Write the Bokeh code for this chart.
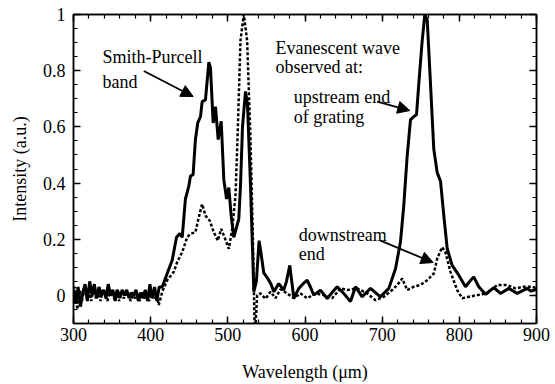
from bokeh.plotting import figure
from bokeh.models import Range1d, LinearAxis, FixedTicker, Arrow, NormalHead, CustomJSTickFormatter
from bokeh.core.properties import value
from bokeh.embed import file_html
from bokeh.resources import INLINE

FONT = "Times New Roman, Liberation Serif, serif"

# ---- data: upstream end of grating (solid) ----
up_x = [300, 303, 306, 309, 312, 315, 318, 321, 324, 327, 330, 333, 336, 339, 342, 345, 348,
        351, 354, 357, 360, 363, 366, 369, 372, 375, 378, 381, 384, 387, 390, 393, 396, 399,
        402, 405, 408, 411,
        415, 421.4, 427.9, 433.5, 437.8, 440.9, 445, 449.5, 451.6, 455, 458, 461, 464.6, 466.7,
        471, 475.4, 477.5, 481, 484, 487.5, 491.4, 494.8, 498.3, 501.3, 504.3, 507.7, 511,
        514.2, 516.4, 519, 522.9, 525.5, 529.4, 533.7, 537, 540.5, 543, 546.6, 551.8, 556,
        559.6, 566, 572.5, 576, 580.3, 585.5, 592, 597, 602.8, 607, 611.4, 620, 628.8, 635,
        641.7, 650.3, 659, 665.4, 674.1, 684.9, 697.8, 708.6, 717.3, 723.7, 728, 732.4, 736.7,
        741, 744.5, 747.5, 751.9, 755.3, 758.4, 762.6, 766.9, 771.3, 775.6, 779.9, 784.3,
        790.7, 799.3, 808, 812, 818.7, 825.2, 833.9, 844.7, 853.3, 864.1, 875, 888, 893, 900]
up_y = [0.02, -0.03, 0.03, -0.04, 0.01, 0.04, -0.02, 0.05, 0.0, 0.04, -0.01, 0.03, 0.0, 0.02,
        -0.01, 0.04, 0.0, 0.02, -0.02, 0.02, -0.01, 0.02, 0.0, 0.02, -0.01, 0.01, 0.0, 0.02,
        -0.02, 0.01, -0.01, 0.02, -0.02, 0.04, -0.01, 0.03, -0.02, 0.03,
        0.03, 0.078, 0.125, 0.207, 0.22, 0.207, 0.343, 0.39, 0.425, 0.43, 0.555, 0.614, 0.637,
        0.69, 0.696, 0.83, 0.81, 0.614, 0.672, 0.555, 0.62, 0.413, 0.343, 0.384, 0.284, 0.207,
        0.24, 0.272, 0.39, 0.6, 0.726, 0.68, 0.39, 0.013, 0.05, 0.195, 0.15, 0.08, 0.06, 0.04,
        0.013, 0.042, 0.019, 0.05, 0.107, -0.01, 0.025, 0.04, 0.054, 0.03, 0.001, 0.019,
        -0.011, 0.01, 0.031, 0.007, -0.022, 0.031, -0.005, 0.025, -0.005, 0.025, 0.095, 0.19,
        0.32, 0.496, 0.625, 0.637, 0.643, 0.755, 0.908, 1.0, 0.98, 0.755, 0.52, 0.437, 0.407,
        0.284, 0.166, 0.107, 0.072, 0.031, 0.045, 0.066, 0.031, 0.004, 0.028, 0.007, 0.025,
        0.007, 0.025, 0.015, 0.022]

# ---- data: downstream end (dotted) ----
dn_x = [300, 302, 305, 308, 311, 314, 317, 320, 323, 326, 329, 332, 335, 338, 341, 344, 347,
        350, 353, 356, 359, 362, 365, 368, 371, 374, 377, 380, 383, 386, 389, 392, 395, 398,
        401, 404, 407, 410.5,
        415, 421.4, 430, 434.4, 440.9, 447.3, 451.6, 458, 462.3, 466.7, 471, 476.6, 481.8,
        487, 491.4, 495.7, 501.3, 505.7, 509.9, 512.5, 516.4, 520.7, 525, 529.4, 532.5, 535,
        538, 542.3, 548.8, 555.3, 561.8, 568.2, 576.8, 585.5, 594.2, 602.8, 613.6, 624.4,
        635.2, 646, 654.7, 667.6, 680.6, 691.3, 702.1, 713, 719.5, 726, 732.4, 741, 749.7,
        758.3, 766.9, 771.3, 777.7, 782, 788.5, 797.2, 803.7, 812.2, 823.1, 836, 849, 862,
        872.8, 883.5, 894.4, 900]
dn_y = [-0.01, 0.03, -0.05, 0.02, -0.02, 0.03, -0.01, 0.02, -0.02, 0.03, -0.01, 0.01, -0.02,
        0.02, 0.0, -0.02, 0.01, 0.0, -0.01, 0.02, -0.02, 0.01, -0.01, 0.0, 0.01, -0.02, 0.0,
        -0.01, 0.01, -0.02, 0.01, -0.01, 0.0, -0.02, 0.02, -0.01, 0.01, -0.034,
        0.013, 0.054, 0.084, 0.119, 0.154, 0.207, 0.219, 0.225, 0.278, 0.325, 0.284, 0.266,
        0.225, 0.195, 0.237, 0.207, 0.166, 0.237, 0.354, 0.555, 0.908, 1.0, 0.908, 0.555, 0.2,
        -0.15, 0.001, 0.007, -0.012, 0.013, -0.01, 0.022, 0.007, -0.01, 0.007, -0.01, 0.007,
        0.001, -0.01, 0.025, 0.019, 0.025, 0.007, -0.017, -0.005, 0.019, 0.037, 0.06, 0.019,
        0.031, 0.037, 0.054, 0.078, 0.131, 0.172, 0.154, 0.084, 0.019, -0.01, -0.005, 0.001,
        0.007, 0.037, 0.037, 0.025, 0.031, 0.031, 0.025]

x_ticks = [300, 400, 500, 600, 700, 800, 900]
x_minor = list(range(300, 901, 20))
y_ticks = [0, 0.2, 0.4, 0.6, 0.8, 1.0]
y_labels = {0: "0", 0.2: "0.2", 0.4: "0.4", 0.6: "0.6", 0.8: "0.8", 1.0: "1"}
y_minor = [round(-0.1 + 0.05 * i, 2) for i in range(23)]

# annotation texts (x, baseline y in data units)
texts = [
    ("Smith-Purcell", 337.6, 0.848),
    ("band", 337.6, 0.761),
    ("Evanescent wave", 561.8, 0.881),
    ("observed at:", 561.8, 0.814),
    ("upstream end", 585.5, 0.708),
    ("of grating", 585.5, 0.636),
    ("downstream", 592.0, 0.216),
    ("end", 592.0, 0.146),
]
arrows = [
    (391.1, 0.799, 455.1, 0.708),
    (693.5, 0.690, 735.8, 0.658),
    (697.8, 0.195, 766.1, 0.117),
]

p = figure(width=555, height=384, output_backend="svg", toolbar_location=None,
           x_range=Range1d(300, 900), y_range=Range1d(-0.1, 1.0),
           min_border_left=73, min_border_right=19, min_border_top=14, min_border_bottom=59)
p.background_fill_color = "white"
p.border_fill_color = "white"
p.outline_line_color = "black"
p.outline_line_width = 1.5
p.xgrid.visible = False
p.ygrid.visible = False

p.line(dn_x, dn_y, line_color="black", line_width=2.5, line_dash="3 2")
p.line(up_x, up_y, line_color="black", line_width=3)

def style_axis(ax, ticks, minor, show_labels):
    ax.ticker = FixedTicker(ticks=ticks, minor_ticks=minor)
    ax.axis_line_color = "black"
    ax.axis_line_width = 1.5
    ax.major_tick_in = 7
    ax.major_tick_out = 0
    ax.minor_tick_in = 4
    ax.minor_tick_out = 0
    ax.major_tick_line_width = 1.5
    ax.minor_tick_line_width = 1.2
    ax.major_tick_line_color = "black"
    ax.minor_tick_line_color = "black"
    if show_labels:
        ax.major_label_text_font = FONT
        ax.major_label_text_font_size = "18px"
        ax.major_label_text_color = "black"
        ax.axis_label_text_font = FONT
        ax.axis_label_text_font_size = "18px"
        ax.axis_label_text_font_style = "normal"
        ax.axis_label_text_color = "black"
    else:
        ax.formatter = CustomJSTickFormatter(code="return '';")
        ax.major_label_standoff = 0

xa = p.xaxis[0]
style_axis(xa, x_ticks, x_minor, True)
xa.axis_label = "Wavelength (μm)"
xa.major_label_standoff = 4
xa.axis_label_standoff = 18

ya = p.yaxis[0]
style_axis(ya, y_ticks, y_minor, True)
ya.major_label_overrides = y_labels
ya.axis_label = "Intensity (a.u.)"
ya.major_label_standoff = 8
ya.axis_label_standoff = 10

top = LinearAxis()
style_axis(top, x_ticks, x_minor, False)
p.add_layout(top, "above")
right = LinearAxis()
style_axis(right, y_ticks, y_minor, False)
p.add_layout(right, "right")

p.text(x=[t[1] for t in texts], y=[t[2] for t in texts], text=[t[0] for t in texts],
       text_font=value(FONT), text_font_size="18px", text_color="black",
       text_baseline="alphabetic", text_align="left")

for (x0, y0, x1, y1) in arrows:
    p.add_layout(Arrow(x_start=x0, y_start=y0, x_end=x1, y_end=y1,
                       line_color="black", line_width=1.8,
                       end=NormalHead(size=12, fill_color="black", line_color="black")))

open("out.html", "w").write(file_html(p, INLINE))
